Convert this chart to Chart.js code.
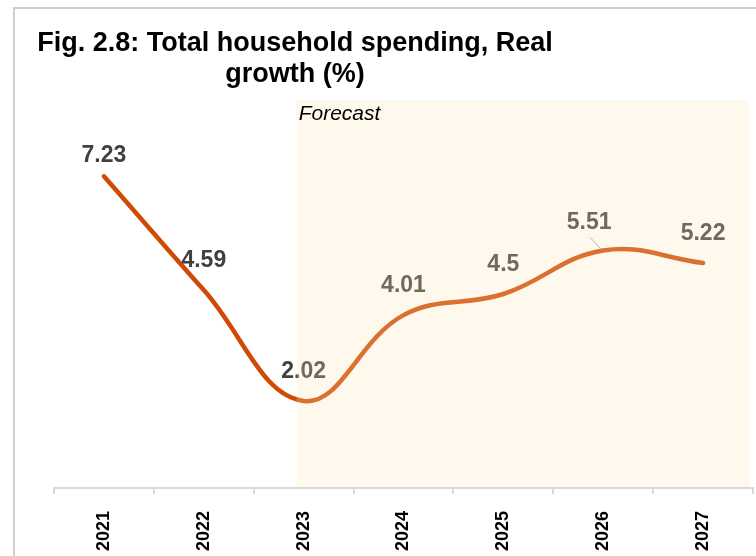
<!DOCTYPE html>
<html>
<head>
<meta charset="utf-8">
<script src="https://cdn.jsdelivr.net/npm/chart.js@4.4.1/dist/chart.umd.min.js"></script>
<style>
  html, body { margin: 0; padding: 0; background: #fff; }
  #wrap { position: relative; width: 756px; height: 556px; overflow: hidden; }
  #frame {
    position: absolute; left: 13px; top: 7px; right: -10px; bottom: -10px;
    border-top: 2px solid #cfcfcf; border-left: 2px solid #cfcfcf;
  }
  #title {
    position: absolute; left: 20px; width: 550px; top: 27px;
    font: bold 27px "Liberation Sans", Arial, sans-serif;
    line-height: 31px; text-align: center; color: #000;
  }
  canvas { position: absolute; left: 0; top: 0; }
</style>
</head>
<body>
<div id="wrap">
  <div id="frame"></div>
  <canvas id="spendChart" width="756" height="556"></canvas>
  <div id="title">Fig. 2.8: Total household spending, Real<br>growth (%)</div>
</div>
<script>
// Real growth of total household spending, %
const years = ['2021', '2022', '2023', '2024', '2025', '2026', '2027'];
const growth = [7.23, 4.59, 2.02, 4.01, 4.5, 5.51, 5.22];
const forecastStart = '2023';

const FONT = '"Liberation Sans", Arial, sans-serif';

// value labels + forecast overlay (overlay sits on top, tinting what's under it)
const decorPlugin = {
  id: 'decor',
  afterDatasetsDraw(chart) {
    const { ctx, chartArea } = chart;
    const x = chart.scales.x;
    const meta = chart.getDatasetMeta(0);

    // value labels, centred above each point
    ctx.save();
    ctx.font = 'bold 23px ' + FONT;
    ctx.fillStyle = '#404040';
    ctx.textAlign = 'center';
    ctx.textBaseline = 'middle';
    meta.data.forEach((pt, i) => {
      let dx = 0, dy = -29;
      if (i === 0) dy = -21;
      if (i === 5) { dx = -14; dy = -28; }
      ctx.fillText(String(growth[i]), pt.x + dx, pt.y + dy);
      if (i === 5) {
        // leader line for the shifted 2026 label
        ctx.strokeStyle = '#a6a6a6';
        ctx.lineWidth = 1;
        ctx.beginPath();
        ctx.moveTo(pt.x - 13, pt.y - 13);
        ctx.lineTo(pt.x - 2, pt.y - 1);
        ctx.stroke();
      }
    });

    // forecast band
    const step = x.getPixelForValue(1) - x.getPixelForValue(0);
    const i0 = years.indexOf(forecastStart);
    const left = x.getPixelForValue(i0) - 0.07 * step;
    const right = x.getPixelForValue(years.length - 1) + 0.46 * step;
    ctx.fillStyle = 'rgba(250,232,180,0.25)';
    ctx.fillRect(left, chartArea.top, right - left, chartArea.bottom - chartArea.top - 1);

    ctx.fillStyle = '#000';
    ctx.font = 'italic 21px ' + FONT;
    ctx.textAlign = 'left';
    ctx.textBaseline = 'alphabetic';
    ctx.fillText('Forecast', left + 2, chartArea.top + 20);
    ctx.restore();
  }
};

new Chart(document.getElementById('spendChart'), {
  type: 'line',
  data: {
    labels: years,
    datasets: [{
      data: growth,
      borderColor: '#d04a04',
      borderWidth: 4.5,
      borderCapStyle: 'round',
      tension: 0.4,
      pointRadius: 0,
      fill: false
    }]
  },
  options: {
    responsive: false,
    devicePixelRatio: 1,
    animation: false,
    layout: { padding: { top: 100, left: 54, right: 3, bottom: 0 } },
    scales: {
      x: {
        offset: true,
        afterFit(scale) { scale.height = 68; },
        border: { color: '#d9d9d9', width: 2 },
        grid: { display: true, drawOnChartArea: false, color: '#d9d9d9', lineWidth: 2, tickLength: 6, offset: true },
        ticks: {
          minRotation: 90, maxRotation: 90, padding: 17,
          color: '#000',
          font: { family: FONT, size: 18, weight: 'bold' }
        }
      },
      y: {
        display: false,
        min: 0,
        max: 9
      }
    },
    plugins: {
      legend: { display: false },
      title: { display: false },
      tooltip: { enabled: false }
    }
  },
  plugins: [decorPlugin]
});
</script>
</body>
</html>
